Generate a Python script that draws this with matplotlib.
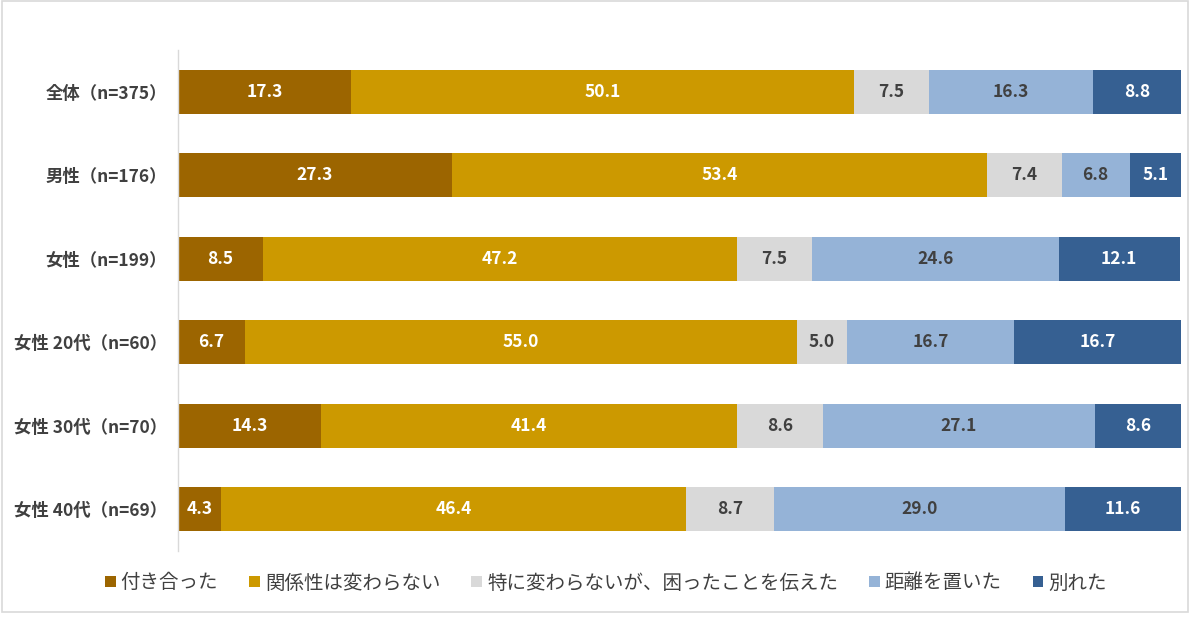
import matplotlib
matplotlib.use("Agg")
import matplotlib.pyplot as plt
from matplotlib.patches import Rectangle

plt.rcParams['font.family'] = ['Noto Sans CJK JP', 'DejaVu Sans']

categories = ["全体（n=375）", "男性（n=176）", "女性（n=199）",
              "女性 20代（n=60）", "女性 30代（n=70）", "女性 40代（n=69）"]
series_names = ["付き合った", "関係性は変わらない", "特に変わらないが、困ったことを伝えた",
                "距離を置いた", "別れた"]
s1 = [17.3, 27.3, 8.5, 6.7, 14.3, 4.3]
s2 = [50.1, 53.4, 47.2, 55.0, 41.4, 46.4]
s3 = [7.5, 7.4, 7.5, 5.0, 8.6, 8.7]
s4 = [16.3, 6.8, 24.6, 16.7, 27.1, 29.0]
s5 = [8.8, 5.1, 12.1, 16.7, 8.6, 11.6]
series = [s1, s2, s3, s4, s5]
colors = ["#9C6500", "#CC9900", "#D9D9D9", "#95B3D7", "#366092"]
text_colors = ["white", "white", "#404040", "#404040", "white"]

fig = plt.figure(figsize=(12, 6.28), dpi=100)
ax = fig.add_axes([0.1483, 0.1226, 0.8358, 0.7978])

y = list(range(len(categories)))
left = [0.0] * len(categories)
for vals, name, col, tc in zip(series, series_names, colors, text_colors):
    bars = ax.barh(y, vals, left=left, height=0.53, color=col, label=name)
    for b, v, l in zip(bars, vals, left):
        ax.text(l + v / 2, b.get_y() + b.get_height() / 2, f"{v:.1f}",
                ha="center", va="center", color=tc, fontsize=12.5,
                fontweight="bold")
    left = [a + b for a, b in zip(left, vals)]

ax.set_xlim(0, 100)
ax.set_ylim(len(categories) - 0.5, -0.5)
ax.set_yticks(y)
ax.set_yticklabels(categories, fontsize=12.5, color="#404040", fontweight="bold")
ax.tick_params(axis="y", length=0, pad=8)
ax.set_xticks([])
for s in ["top", "right", "bottom"]:
    ax.spines[s].set_visible(False)
ax.spines["left"].set_color("#D9D9D9")
ax.spines["left"].set_linewidth(1)

leg = fig.legend(loc="center", bbox_to_anchor=(0.505, 1 - 583 / 628), ncol=5,
                 frameon=False, fontsize=14, handlelength=0.55, handleheight=0.55,
                 handletextpad=0.25, columnspacing=1.6)
for t in leg.get_texts():
    t.set_color("#404040")

fig.patches.append(Rectangle((2 / 1200, 1 - 612 / 628), 1186 / 1200, 612 / 628 - 0.002,
                             transform=fig.transFigure, fill=False,
                             edgecolor="#D9D9D9", linewidth=1.2))

fig.savefig("out.png", dpi=100)
